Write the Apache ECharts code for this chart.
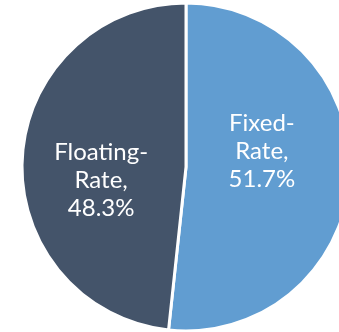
<!DOCTYPE html>
<html>
<head>
<meta charset="utf-8">
<script src="https://cdn.jsdelivr.net/npm/echarts@6/dist/echarts.min.js"></script>
<style>
html,body{margin:0;padding:0;background:#fff;}
#c{width:339px;height:332px;}
</style>
</head>
<body>
<div id="c"></div>
<script>
var categories = ['Fixed-\nRate', 'Floating-\nRate'];
var values = [51.7, 48.3];
var colors = ['#619DD1', '#44546A'];
var labelOffsets = [[-9, -20], [0, 18]];

var chart = echarts.init(document.getElementById('c'), null, {renderer: 'canvas'});
chart.setOption({
  animation: false,
  series: [{
    type: 'pie',
    center: [186, 167],
    radius: 164,
    startAngle: 90,
    clockwise: true,
    silent: true,
    itemStyle: {borderColor: '#fff', borderWidth: 3},
    label: {
      position: 'inside',
      color: '#fff',
      fontFamily: 'Lato',
      fontSize: 24,
      lineHeight: 28,
      align: 'center',
      formatter: function (p) { return p.name + ',\n' + p.value.toFixed(1) + '%'; }
    },
    labelLine: {show: false},
    data: categories.map(function (c, i) {
      return {name: c, value: values[i], itemStyle: {color: colors[i]}, label: {offset: labelOffsets[i]}};
    })
  }]
});
</script>
</body>
</html>
